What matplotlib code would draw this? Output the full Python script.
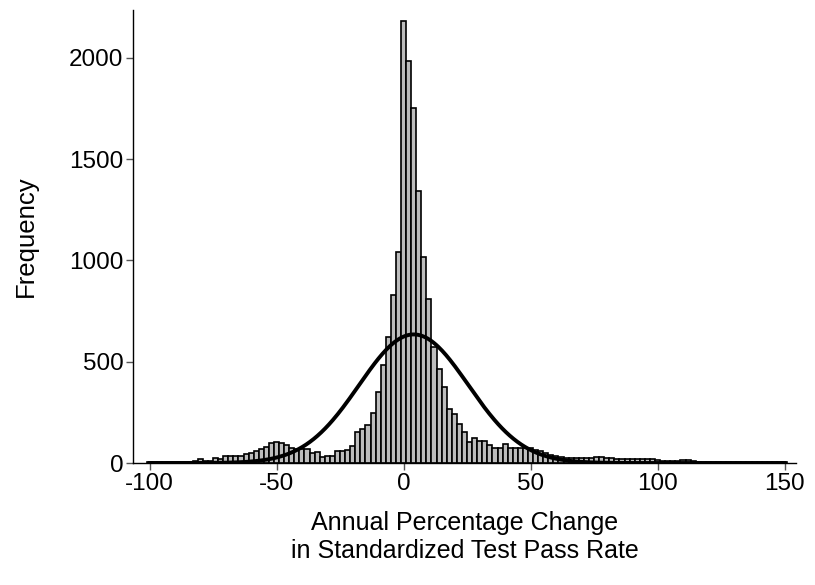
import numpy as np
import matplotlib.pyplot as plt

# --- DATA ---
BIN_WIDTH = 2
bin_centers = np.arange(-100, 151, BIN_WIDTH)

counts_neg = [4, 3, 3, 4, 3, 4, 5, 5, 6, 8,          # -100 .. -82
              20, 10, 11, 23, 22, 35, 33, 33, 35, 45,  # -80 .. -62
              50, 60, 68, 77, 100, 106, 100, 88, 76, 69,  # -60 .. -42
              69, 68, 51, 56, 28, 35, 35, 61, 61, 66,  # -40 .. -22
              86, 153, 168, 186, 248, 350, 484, 624, 830, 1040]  # -20 .. -2
counts_pos = [2184, 1987, 1753, 1345, 1019, 810, 574, 464, 377, 268,  # 0 .. 18
              240, 191, 155, 105, 122, 110, 110, 89, 76, 74,          # 20 .. 38
              92, 72, 72, 72, 72, 72, 66, 58, 50, 38,                 # 40 .. 58
              33, 29, 23, 24, 24, 25, 25, 26, 28, 28,                 # 60 .. 78
              25, 25, 18, 18, 18, 18, 21, 21, 18, 18,                 # 80 .. 98
              16, 12, 11, 11, 10, 14, 15, 8, 7, 6,                    # 100 .. 118
              6, 5, 5, 5, 4, 4, 4, 4, 3, 3,                           # 120 .. 138
              3, 3, 3, 3, 3, 3]                                       # 140 .. 150
counts = counts_neg + counts_pos

# normal overlay, parameters
CURVE_MEAN = 4.0
CURVE_SD = 21.5
CURVE_PEAK = 635

x_ticks = [-100, -50, 0, 50, 100, 150]
y_ticks = [0, 500, 1000, 1500, 2000]

plt.rcParams['font.family'] = ['Liberation Sans', 'DejaVu Sans']
plt.rcParams['axes.unicode_minus'] = False

fig = plt.figure(figsize=(8.15, 5.85), dpi=100)
ax = fig.add_axes([0.1632, 0.2085, 0.8135, 0.7745])

ax.bar(bin_centers, counts, width=BIN_WIDTH, color='#bdbdbd',
       edgecolor='black', linewidth=1.2, zorder=2)

xs = np.linspace(-100, 150, 500)
ys = CURVE_PEAK * np.exp(-0.5 * ((xs - CURVE_MEAN) / CURVE_SD) ** 2)
ax.plot(xs, ys, color='black', linewidth=2.8, zorder=3)

ax.set_xlim(-106.5, 154.5)
ax.set_ylim(0, 2237)
ax.set_xticks(x_ticks)
ax.set_yticks(y_ticks)

for side in ['top', 'right']:
    ax.spines[side].set_visible(False)
for side in ['left', 'bottom']:
    ax.spines[side].set_linewidth(1.0)

ax.tick_params(axis='both', direction='out', length=5, width=1,
               color='#555555', labelsize=17.5, pad=2)

ax.set_ylabel('Frequency', fontsize=18.5, labelpad=22)
ax.set_xlabel('Annual Percentage Change\nin Standardized Test Pass Rate',
              fontsize=18, labelpad=12, linespacing=1.2)

fig.savefig('out.png', dpi=100)
